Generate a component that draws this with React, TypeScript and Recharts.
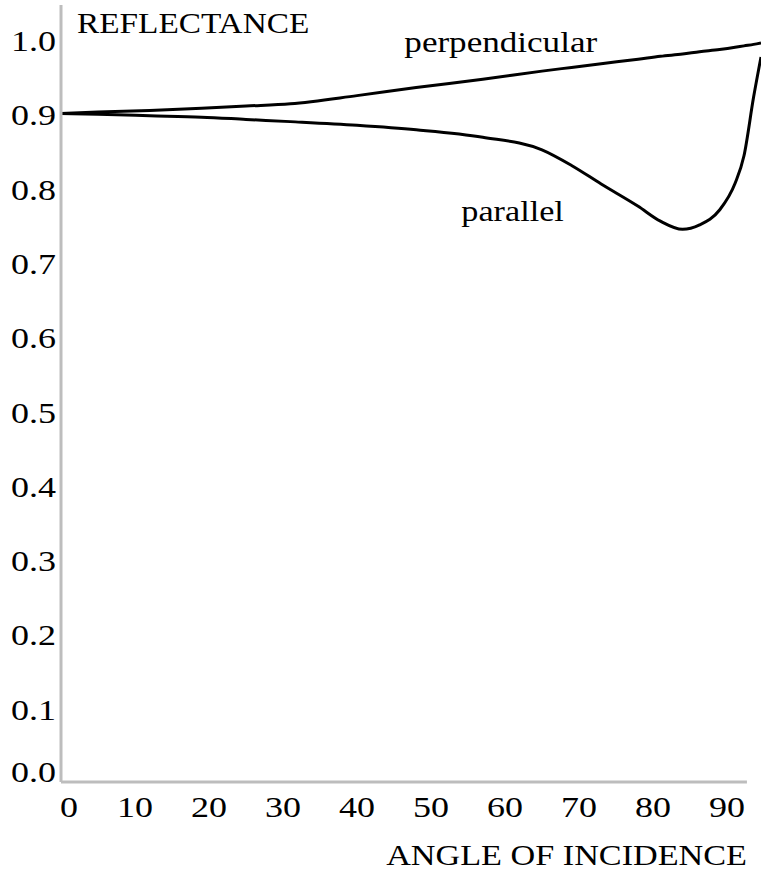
import { LineChart, Line, XAxis, YAxis, ReferenceLine, ReferenceDot } from "recharts";

// angle of incidence (deg)
const angles = [0, 5, 12, 19, 25, 31, 40, 48, 57, 65, 69, 73, 78, 81, 84, 86.3, 89, 91.1, 92.3, 93.6, 94.6];
const perpendicular = [
  0.9, 0.902, 0.904, 0.907, 0.91, 0.913, 0.924, 0.935, 0.946, 0.957, 0.962,
  0.967, 0.973, 0.977, 0.98, 0.983, 0.986, 0.989, 0.991, 0.993, 0.995,
];
const parallel = [
  0.9, 0.899, 0.897, 0.895, 0.892, 0.889, 0.884, 0.878, 0.868, 0.851, 0.83,
  0.805, 0.775, 0.755, 0.744, 0.75, 0.77, 0.806, 0.843, 0.922, 0.976,
];
const xTicks = [0, 10, 20, 30, 40, 50, 60, 70, 80, 90];
const yTicks = [0, 0.1, 0.2, 0.3, 0.4, 0.5, 0.6, 0.7, 0.8, 0.9, 1.0];

const data = angles.map((angle, i) => ({
  angle,
  perpendicular: perpendicular[i],
  parallel: parallel[i],
}));

const FONT = '"Liberation Serif", "Times New Roman", serif';
const INK = "#000";
const AXIS = "#bdbdbd";

// the original lettering is wider than plain Times, so stretch it sideways
function Wide({ x, y, anchor = "start", size = 30, sx = 1.14, children }: any) {
  return (
    <g transform={`translate(${x},${y}) scale(${sx},1)`}>
      <text x={0} y={0} textAnchor={anchor} fontFamily={FONT} fontSize={size} fill={INK}>
        {children}
      </text>
    </g>
  );
}

const XTick = ({ x, payload }: any) => (
  <Wide x={x + (payload.value === 0 ? 8 : 0)} y={817} anchor="middle" sx={1.2}>
    {payload.value}
  </Wide>
);

const YTick = ({ y, payload }: any) => (
  <Wide x={56} y={y + (payload.value === 0 ? 0 : 12)} anchor="end" sx={1.2}>
    {payload.value.toFixed(1)}
  </Wide>
);

export default function App() {
  return (
    <div style={{ position: "absolute", left: 0, top: 0, background: "#fff" }}>
      <LineChart width={761} height={871} data={data} margin={{ top: 5, right: 0, bottom: 0, left: 0 }}>
        <XAxis
          dataKey="angle"
          type="number"
          domain={[0, 94.6]}
          ticks={xTicks}
          interval={0}
          height={89}
          axisLine={false}
          tickLine={false}
          tick={XTick}
          label={{
            content: ({ viewBox }: any) => (
              <Wide x={viewBox.x + viewBox.width - 14} y={viewBox.y + 83} anchor="end">
                ANGLE OF INCIDENCE
              </Wide>
            ),
          }}
        />
        <YAxis
          type="number"
          domain={[0, 1.046]}
          ticks={yTicks}
          interval={0}
          width={61}
          axisLine={{ stroke: AXIS, strokeWidth: 3 }}
          tickLine={false}
          tick={YTick}
          label={{
            content: ({ viewBox }: any) => (
              <Wide x={viewBox.x + viewBox.width + 16} y={viewBox.y + 28} sx={1.11}>
                REFLECTANCE
              </Wide>
            ),
          }}
        />
        <ReferenceLine
          segment={[
            { x: 0, y: 0 },
            { x: 92.7, y: 0 },
          ]}
          stroke={AXIS}
          strokeWidth={3}
        />
        <Line
          type="monotone"
          dataKey="perpendicular"
          stroke="#000"
          strokeWidth={3}
          dot={false}
          isAnimationActive={false}
        />
        <Line
          type="monotone"
          dataKey="parallel"
          stroke="#000"
          strokeWidth={3}
          dot={false}
          isAnimationActive={false}
        />
        <ReferenceDot
          x={46.4}
          y={0.9825}
          r={0}
          fill="none"
          stroke="none"
          label={{
            content: ({ viewBox }: any) => (
              <Wide x={viewBox.x} y={viewBox.y} sx={1.17}>
                perpendicular
              </Wide>
            ),
          }}
        />
        <ReferenceDot
          x={54.1}
          y={0.755}
          r={0}
          fill="none"
          stroke="none"
          label={{
            content: ({ viewBox }: any) => (
              <Wide x={viewBox.x} y={viewBox.y}>
                parallel
              </Wide>
            ),
          }}
        />
      </LineChart>
    </div>
  );
}
